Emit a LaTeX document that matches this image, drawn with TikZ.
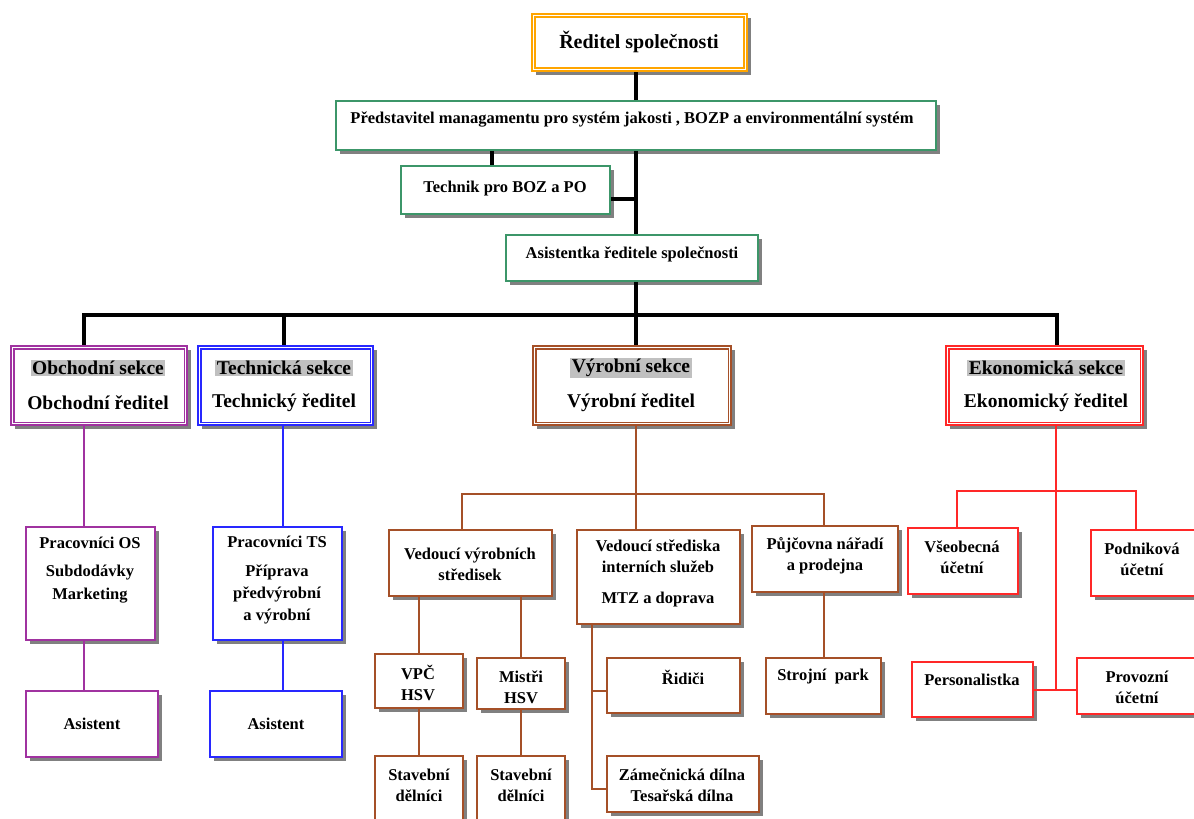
\documentclass[tikz,border=0pt]{standalone}
\usepackage{fontspec}
\setmainfont{Liberation Serif}
\usetikzlibrary{shadows,calc}
\definecolor{cgreen}{RGB}{60,150,105}
\definecolor{cpurple}{RGB}{160,50,160}
\definecolor{cblue}{RGB}{40,40,255}
\definecolor{cbrown}{RGB}{165,80,40}
\definecolor{cred}{RGB}{255,40,40}
\definecolor{corange}{RGB}{255,165,0}
\definecolor{chl}{RGB}{192,192,192}
\newcommand{\mkbox}[6]{%
  \node[#2, minimum width={(#5)-(#3)}, minimum height={(#6)-(#4)}] (#1) at ({((#3)+(#5))/2},{((#4)+(#6))/2}) {};}
\newcommand{\inner}[3]{%
  \draw[#2, line width=#3] ([shift={(4pt,-4pt)}]#1.north west) rectangle ([shift={(-4pt,4pt)}]#1.south east);}
\begin{document}
\begin{tikzpicture}[x=1pt,y=-1pt,
  box/.style={draw=#1, fill=white, line width=1.5pt, inner sep=0pt,
    drop shadow={shadow xshift=4pt, shadow yshift=-4pt, fill=black!50, opacity=1}},
  secbox/.style={box=#1, line width=2.2pt},
  txt/.style={font=\fontsize{16.5}{21}\selectfont\bfseries, align=center, inner sep=0pt},
  bigtxt/.style={font=\fontsize{19.5}{22}\selectfont\bfseries, align=center, inner sep=1.5pt},
  hl/.style={bigtxt, fill=chl},
  blk/.style={draw=black, line width=3.2pt},
  cl/.style={draw=#1, line width=1.4pt}
]
\useasboundingbox (0,0) rectangle (1194,819);
\fill[white] (0,0) rectangle (1194,819);

% top part
\mkbox{dir}{box=corange, line width=2.8pt}{532}{14}{747}{71}
\inner{dir}{corange}{2pt}
\mkbox{rep}{box=cgreen}{336}{101}{936}{150}
\mkbox{tech}{box=cgreen}{401}{166}{610}{214}
\mkbox{asist}{box=cgreen}{506}{235}{758}{281}

% sections
\mkbox{obch}{secbox=cpurple}{11}{346}{187}{425}
\inner{obch}{cpurple}{1.2pt}
\mkbox{techs}{secbox=cblue}{198}{346}{373}{425}
\inner{techs}{cblue}{1.2pt}
\mkbox{vyr}{secbox=cbrown}{533}{346}{731}{425}
\inner{vyr}{cbrown}{1.2pt}
\mkbox{eko}{secbox=cred}{946}{346}{1143}{425}
\inner{eko}{cred}{1.2pt}

% obchodni
\mkbox{pos}{box=cpurple}{26}{527}{155}{640}
\mkbox{asos}{box=cpurple}{26}{691}{158}{757}
% technicka
\mkbox{pts}{box=cblue}{213}{527}{342}{640}
\mkbox{asts}{box=cblue}{210}{691}{342}{757}
% vyrobni
\mkbox{vvs}{box=cbrown}{389}{530}{552}{596}
\mkbox{vsis}{box=cbrown}{577}{530}{740}{624}
\mkbox{pujc}{box=cbrown}{752}{526}{898}{592}
\mkbox{vpc}{box=cbrown}{375}{654}{463}{708}
\mkbox{mistri}{box=cbrown}{477}{658}{565}{709}
\mkbox{stava}{box=cbrown}{375}{756}{463}{830}
\mkbox{stavb}{box=cbrown}{477}{756}{565}{830}
\mkbox{ridici}{box=cbrown}{607}{658}{740}{713}
\mkbox{zam}{box=cbrown}{607}{756}{759}{812}
\mkbox{strojni}{box=cbrown}{766}{658}{881}{714}
% ekonomicka
\mkbox{vseob}{box=cred}{908}{528}{1018}{594}
\mkbox{podn}{box=cred}{1091}{530}{1200}{596}
\mkbox{pers}{box=cred}{912}{662}{1033}{717}
\mkbox{prov}{box=cred}{1077}{658}{1200}{714}

% texts
\node[bigtxt, font=\fontsize{20}{22}\selectfont\bfseries] (tdir) at (639,42) {Ředitel společnosti};
\node[txt] (trep) at (632,120) {Představitel managamentu pro systém jakosti , BOZP a environmentální systém};
\node[txt] (ttech) at (505,189) {Technik pro BOZ a PO};
\node[txt] (tasist) at (632,254) {Asistentka ředitele společnosti};

\node[hl] (tobch1) at (98,368) {Obchodní sekce};
\node[bigtxt] (tobch2) at (98,403) {Obchodní ředitel};
\node[hl] (ttechs1) at (284,368) {Technická sekce};
\node[bigtxt] (ttechs2) at (284,403) {Technický ředitel};
\node[hl] (tvyr1) at (631,368) {Výrobní sekce};
\node[bigtxt] (tvyr2) at (631,403) {Výrobní ředitel};
\node[hl] (teko1) at (1046,368) {Ekonomická sekce};
\node[bigtxt] (teko2) at (1046,403) {Ekonomický ředitel};

\node[txt, font=\fontsize{16.5}{23}\selectfont\bfseries] (tpos) at (90,570) {Pracovníci OS\\[5pt]Subdodávky\\Marketing};
\node[txt] (tasos) at (92,724) {Asistent};
\node[txt, font=\fontsize{16.5}{22}\selectfont\bfseries] (tpts) at (277,580) {Pracovníci TS\\[7pt]Příprava\\předvýrobní\\a výrobní};
\node[txt] (tasts) at (276,724) {Asistent};

\node[txt] (tvvs) at (470,564) {Vedoucí výrobních\\středisek};
\node[txt] (tvsis) at (658,573) {Vedoucí střediska\\interních služeb\\[10pt]MTZ a doprava};
\node[txt] (tpujc) at (825,556) {Půjčovna nářadí\\a prodejna};
\node[txt] (tvpc) at (418,683) {VPČ\\HSV};
\node[txt] (tmistri) at (521,687) {Mistři\\HSV};
\node[txt] (tstava) at (419,785) {Stavební\\dělníci};
\node[txt] (tstavb) at (521,785) {Stavební\\dělníci};
\node[txt] (tridici) at (683,677) {Řidiči};
\node[txt] (tzam) at (682,785) {Zámečnická dílna\\Tesařská dílna};
\node[txt] (tstrojni) at (823,677) {Strojní\ \ park};

\node[txt] (tvseob) at (962,557) {Všeobecná\\účetní};
\node[txt] (tpodn) at (1142,559) {Podniková\\účetní};
\node[txt] (tpers) at (972,680) {Personalistka};
\node[txt] (tprov) at (1137,687) {Provozní\\účetní};

% black connectors
\coordinate (xa) at (636,315);
\coordinate (xt) at (492,0);
\coordinate (yt) at (0,199);
\coordinate (ba) at (84,315);
\coordinate (bb) at (284,315);
\coordinate (bd) at (1057,315);
\draw[blk] (dir.south -| xa) -- (rep.north -| xa);
\draw[blk] (rep.south -| xt) -- (tech.north -| xt);
\draw[blk] (rep.south -| xa) -- (asist.north -| xa);
\draw[blk] (tech.east |- yt) -- (xa |- yt);
\draw[blk] (asist.south -| xa) -- (xa);
\draw[blk] (ba |- obch.north) -- (ba) -- (bd) -- (bd |- eko.north);
\draw[blk] (bb) -- (bb |- techs.north);
\draw[blk] (xa) -- (xa |- vyr.north);

% purple / blue
\coordinate (xp) at (84,0);
\coordinate (xb) at (283,0);
\draw[cl=cpurple] (obch.south -| xp) -- (pos.north -| xp);
\draw[cl=cpurple] (pos.south -| xp) -- (asos.north -| xp);
\draw[cl=cblue] (techs.south -| xb) -- (pts.north -| xb);
\draw[cl=cblue] (pts.south -| xb) -- (asts.north -| xb);

% brown
\coordinate (vb) at (636,494);
\coordinate (vl) at (462,494);
\coordinate (vr) at (824,494);
\coordinate (xq) at (419,0);
\coordinate (xm) at (521,0);
\coordinate (xs) at (592,0);
\coordinate (yr) at (0,691);
\coordinate (yz) at (0,789);
\draw[cl=cbrown] (vyr.south -| vb) -- (vb);
\draw[cl=cbrown] (vl |- vvs.north) -- (vl) -- (vr) -- (vr |- pujc.north);
\draw[cl=cbrown] (vb) -- (vb |- vsis.north);
\draw[cl=cbrown] (vvs.south -| xq) -- (vpc.north -| xq);
\draw[cl=cbrown] (vpc.south -| xq) -- (stava.north -| xq);
\draw[cl=cbrown] (vvs.south -| xm) -- (mistri.north -| xm);
\draw[cl=cbrown] (mistri.south -| xm) -- (stavb.north -| xm);
\draw[cl=cbrown] (vsis.south -| xs) -- (xs |- yz) -- (zam.west |- yz);
\draw[cl=cbrown] (xs |- yr) -- (ridici.west |- yr);
\draw[cl=cbrown] (pujc.south -| vr) -- (strojni.north -| vr);

% red
\coordinate (eb) at (1056,491);
\coordinate (ep) at (1056,690);
\coordinate (el) at (957,491);
\coordinate (er) at (1136,491);
\draw[cl=cred] (eko.south -| eb) -- (ep);
\draw[cl=cred] (pers.east |- ep) -- (prov.west |- ep);
\draw[cl=cred] (el |- vseob.north) -- (el) -- (er) -- (er |- podn.north);
\end{tikzpicture}
\end{document}
